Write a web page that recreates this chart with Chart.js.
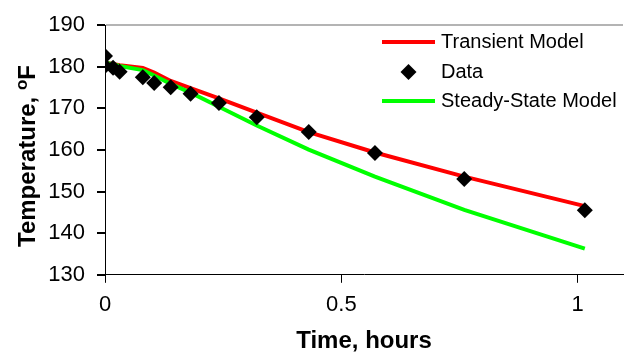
<!DOCTYPE html>
<html>
<head>
<meta charset="utf-8">
<script src="https://cdn.jsdelivr.net/npm/chart.js@4"></script>
<style>
  html, body { margin: 0; padding: 0; background: #fff; }
  #wrap { width: 631px; height: 356px; position: relative; }
</style>
</head>
<body>
<div id="wrap"><canvas id="chart"></canvas></div>
<script>
// model curves evaluated at the measurement times
const modelTimes     = [0, 0.017, 0.031, 0.080, 0.104, 0.139, 0.181, 0.241, 0.321, 0.431, 0.571, 0.760, 1.015];
const transientTemps = [181.0, 180.7, 180.4, 179.7, 178.6, 176.6, 174.9, 172.4, 169.0, 164.3, 159.4, 153.6, 146.5];
const steadyTemps    = [181.0, 180.6, 180.2, 179.2, 177.9, 175.9, 173.8, 170.4, 165.9, 160.1, 153.6, 145.6, 136.3];

// measured points
const dataTimes = [0, 0, 0.017, 0.031, 0.080, 0.104, 0.139, 0.181, 0.241, 0.321, 0.431, 0.571, 0.760, 1.015];
const dataTemps = [182.6, 180.2, 179.8, 178.8, 177.5, 176.1, 175.1, 173.5, 171.3, 167.9, 164.3, 159.3, 153.0, 145.5];

const xTicks = [0, 0.5, 1];
const yMin = 130, yMax = 190, yStep = 10;

const FONT = "'Liberation Sans', Arial, sans-serif";

function pts(xs, ys) {
  return xs.map((x, i) => ({ x: x, y: ys[i] }));
}

// legend drawn inside the plot, top right (like the Excel original)
const insideLegend = {
  id: "insideLegend",
  afterDraw(chart) {
    const ctx = chart.ctx;
    const rows = [0, 1, 2];
    const lineX0 = 382, lineX1 = 435, textX = 441;
    const rowY = [42, 72, 101];
    ctx.save();
    ctx.font = "20px " + FONT;
    ctx.textBaseline = "middle";
    ctx.fillStyle = "#000";
    rows.forEach(i => {
      const ds = chart.data.datasets[i];
      const y = rowY[i];
      if (ds.showLine === false) {
        const cx = (lineX0 + lineX1) / 2, r = 8;
        ctx.beginPath();
        ctx.moveTo(cx, y - r);
        ctx.lineTo(cx + r, y);
        ctx.lineTo(cx, y + r);
        ctx.lineTo(cx - r, y);
        ctx.closePath();
        ctx.fillStyle = ds.backgroundColor;
        ctx.fill();
      } else {
        ctx.beginPath();
        ctx.moveTo(lineX0, y);
        ctx.lineTo(lineX1, y);
        ctx.strokeStyle = ds.borderColor;
        ctx.lineWidth = ds.borderWidth;
        ctx.stroke();
      }
      ctx.fillStyle = "#000";
      ctx.fillText(ds.label, textX, y);
    });
    ctx.restore();
  }
};

// rotated y title with superscript "o"
const yTitle = {
  id: "yTitle",
  afterDraw(chart) {
    const ctx = chart.ctx;
    ctx.save();
    ctx.translate(35, 247);
    ctx.rotate(-Math.PI / 2);
    ctx.fillStyle = "#000";
    ctx.textBaseline = "alphabetic";
    ctx.font = "bold 24px " + FONT;
    const main = "Temperature, ";
    ctx.fillText(main, 0, 0);
    let x = ctx.measureText(main).width;
    ctx.font = "bold 17px " + FONT;
    ctx.fillText("o", x, -8);
    x += ctx.measureText("o").width;
    ctx.font = "bold 24px " + FONT;
    ctx.fillText("F", x, 0);
    ctx.restore();
  }
};

const ctx = document.getElementById("chart").getContext("2d");
new Chart(ctx, {
  type: "scatter",
  data: {
    datasets: [
      {
        label: "Transient Model",
        data: pts(modelTimes, transientTemps),
        showLine: true,
        borderColor: "#ff0000",
        backgroundColor: "#ff0000",
        borderWidth: 4,
        pointRadius: 0,
        order: 2
      },
      {
        label: "Data",
        data: pts(dataTimes, dataTemps),
        showLine: false,
        pointStyle: "rectRot",
        pointRadius: 8,
        pointBorderWidth: 0,
        backgroundColor: "#000000",
        borderColor: "#000000",
        order: 0
      },
      {
        label: "Steady-State Model",
        data: pts(modelTimes, steadyTemps),
        showLine: true,
        borderColor: "#00ff00",
        backgroundColor: "#00ff00",
        borderWidth: 4,
        pointRadius: 0,
        order: 1
      }
    ]
  },
  options: {
    responsive: true,
    maintainAspectRatio: false,
    animation: false,
    layout: { padding: { left: 48, right: 0, top: 9, bottom: 0 } },
    plugins: {
      legend: { display: false },
      tooltip: { enabled: false }
    },
    scales: {
      x: {
        type: "linear",
        min: 0,
        max: 1.0958,
        afterBuildTicks: scale => { scale.ticks = xTicks.map(v => ({ value: v })); },
        ticks: {
          color: "#000",
          font: { family: FONT, size: 22 },
          padding: 9,
          maxRotation: 0,
          callback: v => String(v)
        },
        grid: {
          drawOnChartArea: false,
          drawTicks: true,
          tickLength: 8,
          tickColor: "#000"
        },
        border: { color: "#000", width: 1 },
        title: {
          display: true,
          text: "Time, hours",
          color: "#000",
          font: { family: FONT, size: 24, weight: "bold" },
          padding: { top: 0, bottom: 0 }
        }
      },
      y: {
        min: yMin,
        max: yMax,
        afterFit: scale => { scale.width = 57; },
        ticks: {
          stepSize: yStep,
          color: "#000",
          font: { family: FONT, size: 22 },
          padding: 12
        },
        grid: {
          color: c => (c.tick && c.tick.value === yMax ? "#b4b4b4" : "rgba(0,0,0,0)"),
          lineWidth: 2,
          drawTicks: true,
          tickLength: 8,
          tickColor: "#000"
        },
        border: { color: "#000", width: 1 }
      }
    }
  },
  plugins: [insideLegend, yTitle]
});
</script>
</body>
</html>
